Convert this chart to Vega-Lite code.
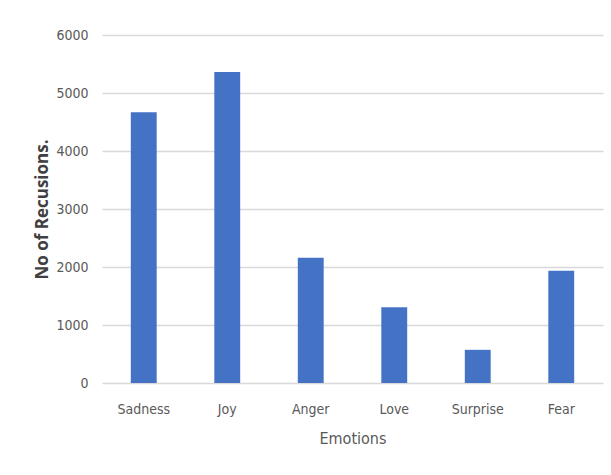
{
  "$schema": "https://vega.github.io/schema/vega-lite/v6.json",
  "width": 501,
  "height": 348,
  "autosize": {"type": "none"},
  "padding": {"left": 102, "top": 35, "right": 8, "bottom": 92},
  "background": "white",
  "data": {
    "values": [
      {"emotion": "Sadness", "count": 4666},
      {"emotion": "Joy", "count": 5362},
      {"emotion": "Anger", "count": 2159},
      {"emotion": "Love", "count": 1304},
      {"emotion": "Surprise", "count": 572},
      {"emotion": "Fear", "count": 1937}
    ]
  },
  "mark": {"type": "bar", "color": "#4472C4"},
  "encoding": {
    "x": {
      "field": "emotion",
      "type": "nominal",
      "sort": null,
      "scale": {"paddingInner": 0.69, "paddingOuter": 0.345},
      "axis": {
        "title": "Emotions",
        "labelAngle": 0,
        "labelFont": "DejaVu Sans Condensed, sans-serif",
        "labelFontSize": 14,
        "labelColor": "#595959",
        "labelPadding": 19,
        "titleFont": "DejaVu Sans Condensed, sans-serif",
        "titleFontSize": 16,
        "titleFontWeight": "normal",
        "titleColor": "#595959",
        "titlePadding": 14,
        "domain": false,
        "ticks": false,
        "grid": false
      }
    },
    "y": {
      "field": "count",
      "type": "quantitative",
      "scale": {"domain": [0, 6000], "nice": false},
      "axis": {
        "title": "No of Recusions.",
        "format": "d",
        "values": [0, 1000, 2000, 3000, 4000, 5000, 6000],
        "labelFont": "DejaVu Sans Condensed, sans-serif",
        "labelFontSize": 14,
        "labelColor": "#595959",
        "labelPadding": 14,
        "titleFont": "Open Sans, sans-serif",
        "titleFontSize": 17,
        "titleFontWeight": "bold",
        "titleColor": "#404040",
        "titlePadding": 4,
        "domain": false,
        "ticks": false,
        "grid": true,
        "gridColor": "#d9d9d9",
        "gridWidth": 1.5
      }
    }
  },
  "config": {
    "view": {"stroke": null}
  }
}
